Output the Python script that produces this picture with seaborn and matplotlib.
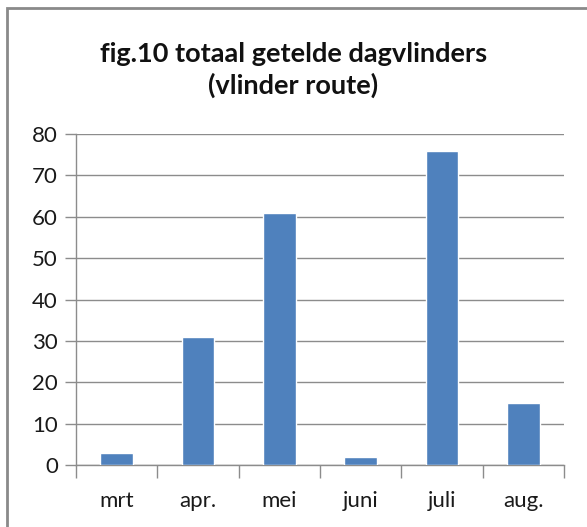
import matplotlib
matplotlib.use('Agg')
import matplotlib.pyplot as plt
import pandas as pd
import seaborn as sns
from matplotlib.patches import Rectangle

# Data
months = ['mrt', 'apr.', 'mei', 'juni', 'juli', 'aug.']
counts = [3, 31, 61, 2, 76, 15]
y_ticks = [0, 10, 20, 30, 40, 50, 60, 70, 80]

df = pd.DataFrame({'maand': months, 'aantal': counts})

sns.set_style('white')
plt.rcParams['font.family'] = ['Lato', 'DejaVu Sans']

fig = plt.figure(figsize=(5.87, 5.27), dpi=100, facecolor='white')
ax = fig.add_axes([76 / 587, 1 - 465 / 527, 488 / 587, 331 / 527])

sns.barplot(data=df, x='maand', y='aantal', color='#4F81BD', saturation=1,
            width=0.4, ax=ax, zorder=3)

grid_col = '#8c8c8c'
ax.set_ylim(0, 80)
ax.set_xlim(-0.5, len(months) - 0.5)
ax.set_yticks(y_ticks)
ax.yaxis.grid(True, color=grid_col, linewidth=1)
ax.set_axisbelow(True)

for side in ['top', 'right']:
    ax.spines[side].set_visible(False)
for side in ['left', 'bottom']:
    ax.spines[side].set_color(grid_col)
    ax.spines[side].set_linewidth(1)

ax.set_xlabel('')
ax.set_ylabel('')

# tick marks between categories, labels centred on the bars
ax.set_xticks([i - 0.5 for i in range(len(months) + 1)], minor=True)
ax.tick_params(axis='x', which='minor', length=9, color=grid_col, width=1,
               direction='out', bottom=True)
ax.tick_params(axis='x', which='major', length=0, pad=19, labelsize=16,
               labelcolor='#1a1a1a')
ax.tick_params(axis='y', length=8, color=grid_col, width=1, direction='out',
               left=True, pad=5, labelsize=16, labelcolor='#1a1a1a')

fig.text(0.5, 1 - 70 / 527, 'fig.10 totaal getelde dagvlinders\n(vlinder route)',
         ha='center', va='center', fontsize=19.5, fontweight='bold',
         linespacing=1.3, color='#111111')

# chart border
fig.patches.append(Rectangle((7 / 587, -0.05), 1.2, 1 - 8 / 527 + 0.05,
                             transform=fig.transFigure, fill=False,
                             edgecolor='#8a8a8a', linewidth=2))

fig.savefig('out.png', dpi=100, facecolor='white')
